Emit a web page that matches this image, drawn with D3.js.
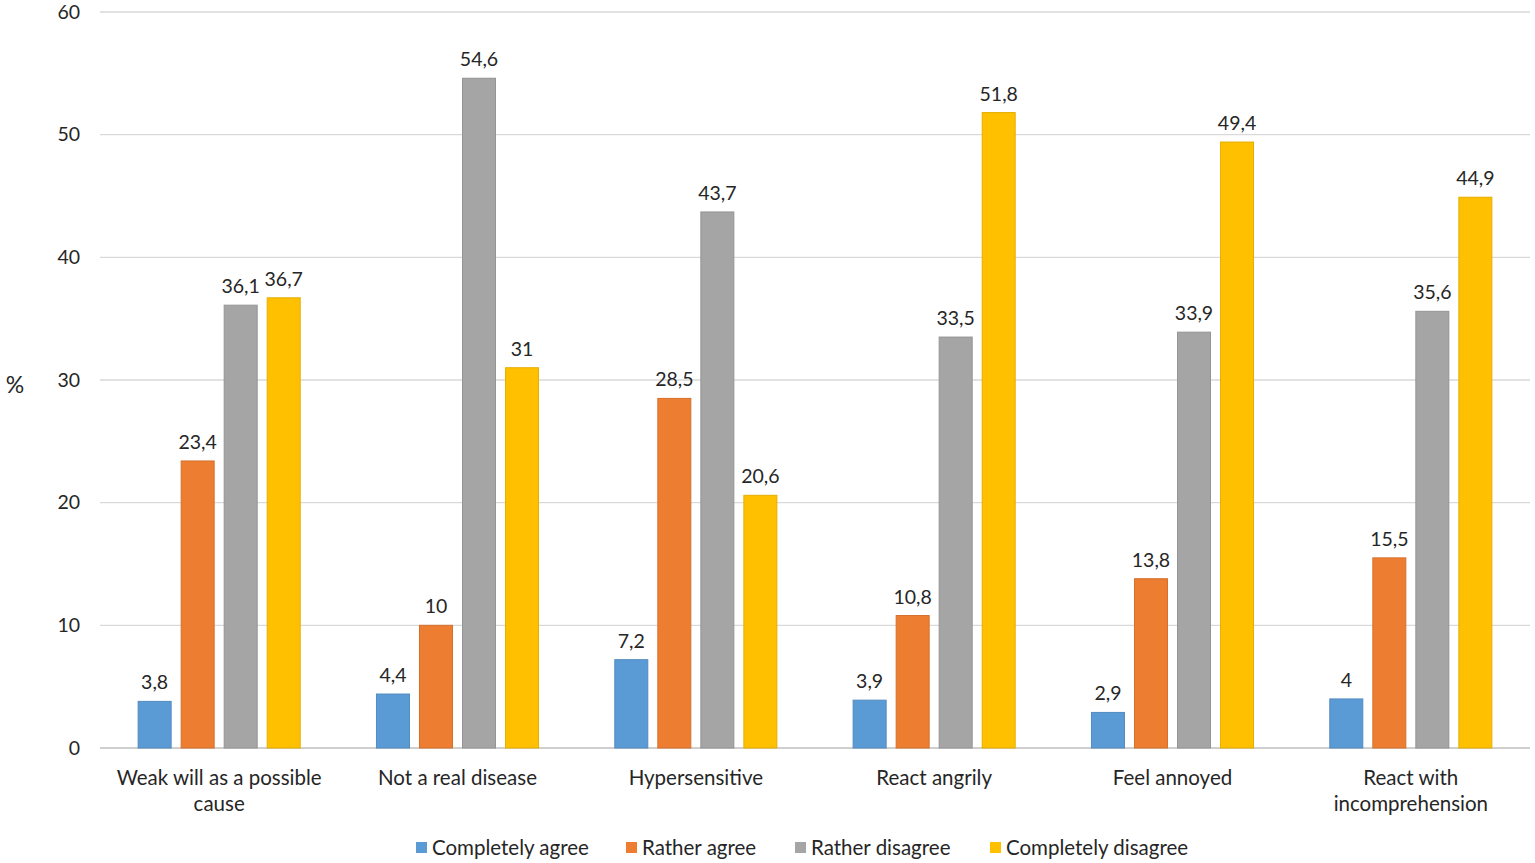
<!DOCTYPE html>
<html>
<head>
<meta charset="utf-8">
<script src="https://cdn.jsdelivr.net/npm/d3@7"></script>
<style>
  body { margin: 0; background: #fff; }
  text { font-family: Lato, "Open Sans", sans-serif; fill: #262626; }
</style>
</head>
<body>
<div id="chart"></div>
<script>
const categories = ["Weak will as a possible cause", "Not a real disease", "Hypersensitive", "React angrily", "Feel annoyed", "React with incomprehension"];
const series = ["Completely agree", "Rather agree", "Rather disagree", "Completely disagree"];
const completelyAgree = [3.8, 4.4, 7.2, 3.9, 2.9, 4];
const ratherAgree = [23.4, 10, 28.5, 10.8, 13.8, 15.5];
const ratherDisagree = [36.1, 54.6, 43.7, 33.5, 33.9, 35.6];
const completelyDisagree = [36.7, 31, 20.6, 51.8, 49.4, 44.9];
const yTicks = [0, 10, 20, 30, 40, 50, 60];
const colors = ["#5B9BD5", "#ED7D31", "#A5A5A5", "#FFC000"];

const values = [completelyAgree, ratherAgree, ratherDisagree, completelyDisagree];
const rows = categories.map((c, i) => ({
	cat: c,
	vals: series.map((s, j) => ({ key: s, value: values[j][i] }))
}));

const width = 1535, height = 863;
const svg = d3.select("#chart")
	.append("svg")
	.attr("width", width)
	.attr("height", height);

const x0 = d3.scaleBand()
	.domain(categories)
	.range([100, 1530])
	.paddingInner(0.32)
	.paddingOuter(0.16);

const x1 = d3.scaleBand()
	.domain(series)
	.range([0, x0.bandwidth()])
	.paddingInner(0.233);

const y = d3.scaleLinear()
	.domain([0, 60])
	.range([748, 12]);

const color = d3.scaleOrdinal().domain(series).range(colors);

// gridlines
svg.append("g")
	.selectAll("line")
	.data(yTicks)
	.enter()
	.append("line")
	.attr("x1", 100)
	.attr("x2", 1530)
	.attr("y1", d => y(d))
	.attr("y2", d => y(d))
	.attr("stroke", d => d === 0 ? "#BFBFBF" : "#D9D9D9")
	.attr("stroke-width", 1.3);

// y tick labels
svg.append("g")
	.selectAll("text")
	.data(yTicks)
	.enter()
	.append("text")
	.attr("x", 80)
	.attr("y", d => y(d))
	.attr("dy", "0.35em")
	.attr("text-anchor", "end")
	.style("font-size", "19.5px")
	.text(d => d);

svg.append("text")
	.attr("x", 15)
	.attr("y", 385)
	.attr("dy", "0.35em")
	.attr("text-anchor", "middle")
	.style("font-size", "23px")
	.text("%");

// bars
const groups = svg.append("g")
	.selectAll("g")
	.data(rows)
	.enter()
	.append("g")
	.attr("transform", d => "translate(" + x0(d.cat) + ",0)");

groups.selectAll("rect")
	.data(d => d.vals)
	.enter()
	.append("rect")
	.attr("x", d => x1(d.key))
	.attr("y", d => y(d.value))
	.attr("width", x1.bandwidth())
	.attr("height", d => y(0) - y(d.value))
	.attr("fill", d => color(d.key))
	.attr("stroke", d => d3.color(color(d.key)).darker(0.3))
	.attr("stroke-width", 1);

groups.selectAll("text")
	.data(d => d.vals)
	.enter()
	.append("text")
	.attr("x", d => x1(d.key) + x1.bandwidth() / 2)
	.attr("y", d => y(d.value) - 12)
	.attr("text-anchor", "middle")
	.style("font-size", "19.5px")
	.text(d => String(d.value).replace(".", ","));

// category labels with wrapping
function wrapLines(str, maxW, fontSize) {
	const tmp = svg.append("text").style("font-size", fontSize + "px");
	const words = str.split(" ");
	const lines = [];
	let line = [];
	words.forEach(w => {
		line.push(w);
		tmp.text(line.join(" "));
		if (tmp.node().getComputedTextLength() > maxW && line.length > 1) {
			line.pop();
			lines.push(line.join(" "));
			line = [w];
		}
	});
	lines.push(line.join(" "));
	tmp.remove();
	return lines;
}

const catLabels = svg.append("g")
	.selectAll("text")
	.data(categories)
	.enter()
	.append("text")
	.attr("text-anchor", "middle")
	.attr("x", d => x0(d) + x0.bandwidth() / 2)
	.attr("y", 778)
	.style("font-size", "20.5px");

catLabels.each(function(d) {
	const lines = wrapLines(d, 225, 20.5);
	const t = d3.select(this);
	lines.forEach((l, i) => {
		t.append("tspan")
			.attr("x", x0(d) + x0.bandwidth() / 2)
			.attr("dy", i === 0 ? "0.35em" : "26px")
			.text(l);
	});
});

// legend
const legendX = [416, 626, 795, 990];
const legend = svg.append("g")
	.selectAll("g")
	.data(series)
	.enter()
	.append("g")
	.attr("transform", (d, i) => "translate(" + legendX[i] + ",848)");

legend.append("rect")
	.attr("x", 0)
	.attr("y", -6)
	.attr("width", 11)
	.attr("height", 11)
	.attr("fill", d => color(d));

legend.append("text")
	.attr("x", 16)
	.attr("y", 0)
	.attr("dy", "0.35em")
	.style("font-size", "20.5px")
	.text(d => d);
</script>
</body>
</html>
